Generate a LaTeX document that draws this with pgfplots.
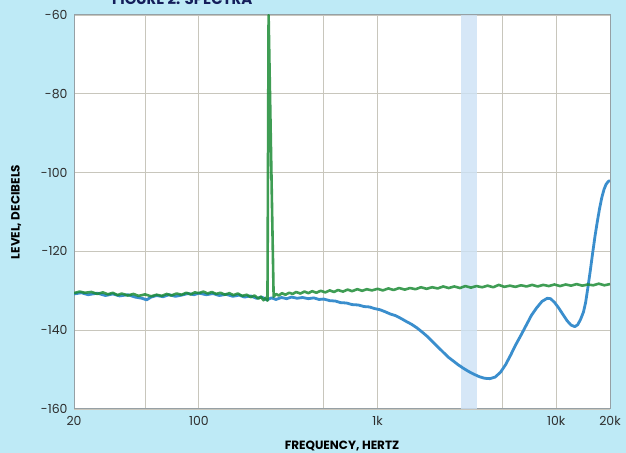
\documentclass[border=0pt]{standalone}
\usepackage{pgfplots}
\pgfplotsset{compat=1.18}
\usepackage{fontspec}
\setmainfont{Poppins}

\definecolor{bg}{RGB}{190,234,246}
\definecolor{bandc}{RGB}{204,226,245}
\definecolor{gridc}{RGB}{200,198,188}
\definecolor{framec}{RGB}{150,160,165}
\definecolor{tickc}{RGB}{45,45,45}
\definecolor{navy}{RGB}{20,30,90}
\definecolor{greenc}{RGB}{30,140,55}
\definecolor{bluec}{RGB}{58,142,205}

% level (dB) vs frequency (Hz)
\pgfplotstableread{
f db
20 -130.6
21.5 -130.2
23 -130.5
25 -130.3
27 -130.8
29 -130.4
31 -130.9
33 -130.5
35 -131.1
37 -130.7
40 -131.2
43 -130.8
46 -131.3
50 -130.9
54 -131.4
58 -131.0
62 -131.3
66 -130.8
70 -131.2
75 -130.7
80 -131.0
85 -130.5
90 -130.9
95 -130.4
100 -130.6
106 -130.2
112 -130.7
118 -130.3
125 -130.8
132 -130.5
140 -131.0
148 -130.6
156 -131.1
165 -130.7
175 -131.3
185 -131.0
195 -131.6
205 -131.2
215 -132.0
222 -131.5
230 -132.4
236 -131.8
242 -132.5
245.5 -60
262 -131.5
270 -130.8
280 -131.2
292 -130.6
305 -131.0
320 -130.5
335 -130.8
350 -130.3
370 -130.7
390 -130.2
410 -130.6
430 -130.1
455 -130.5
480 -130.0
510 -130.4
540 -129.9
570 -130.3
600 -129.8
640 -130.2
680 -129.7
720 -130.1
770 -129.6
820 -130.0
870 -129.6
930 -129.9
1000 -129.5
1070 -129.9
1150 -129.4
1230 -129.8
1320 -129.3
1420 -129.7
1520 -129.3
1630 -129.6
1750 -129.1
1880 -129.5
2020 -129.1
2170 -129.4
2330 -128.9
2500 -129.3
2690 -128.9
2890 -129.3
3100 -128.8
3330 -129.2
3580 -128.8
3850 -129.1
4130 -128.7
4440 -129.1
4770 -128.5
5120 -129.0
5500 -128.7
5910 -129.0
6350 -128.6
6820 -128.9
7330 -128.5
7880 -128.9
8460 -128.5
9090 -128.8
9770 -128.4
10500 -128.8
11300 -128.4
12100 -128.7
13000 -128.3
14000 -128.7
15000 -128.4
16100 -128.6
17300 -128.2
18600 -128.6
20000 -128.3
}\greendata

\pgfplotstableread{
f db
20 -130.8
22 -130.5
24 -131.0
27 -130.6
30 -131.2
33 -130.8
36 -131.3
40 -131.0
44 -131.6
48 -131.9
51 -132.3
54 -131.6
58 -131.2
63 -131.5
68 -131.0
74 -131.4
80 -131.1
87 -130.7
94 -131.0
100 -130.6
110 -131.0
120 -130.7
130 -131.2
142 -130.9
155 -131.4
168 -131.1
180 -131.6
195 -131.3
210 -131.9
225 -131.6
240 -132.3
255 -131.8
270 -132.2
290 -131.7
310 -132.0
330 -131.6
355 -131.9
380 -131.7
410 -132.0
440 -131.8
470 -132.2
500 -132.1
540 -132.5
580 -132.6
620 -133.0
670 -133.1
720 -133.5
780 -133.6
840 -134.0
900 -134.1
960 -134.5
1030 -134.8
1100 -135.3
1180 -135.9
1260 -136.3
1350 -137.0
1450 -137.8
1550 -138.5
1660 -139.4
1780 -140.5
1900 -141.6
2030 -142.9
2170 -144.2
2320 -145.5
2480 -146.8
2650 -147.8
2830 -148.8
3030 -149.7
3240 -150.5
3470 -151.2
3710 -151.8
3970 -152.2
4250 -152.3
4550 -151.9
4870 -150.7
5200 -148.8
5560 -146.3
5950 -143.6
6360 -141.2
6800 -138.7
7270 -136.2
7780 -134.3
8320 -132.7
8900 -131.9
9300 -132.0
9800 -133.0
10300 -134.3
10900 -136.0
11500 -137.6
12100 -138.7
12700 -139.1
13200 -138.6
13700 -137.2
14200 -135.4
14600 -133.0
15000 -129.5
15500 -125.0
16000 -120.3
16500 -116.0
17000 -112.3
17500 -109.0
18000 -106.3
18500 -104.3
19000 -103.0
19500 -102.3
20000 -102.0
}\bluedata

\begin{document}
\begin{tikzpicture}[x=1bp,y=1bp]
\path[use as bounding box, fill=bg] (0,0) rectangle (626,453);
\node[anchor=base west, text=navy, inner sep=0pt,
  font=\bfseries\fontsize{15}{15}\selectfont] at (112,448) {FIGURE 2: SPECTRA};
\begin{axis}[
  at={(74bp,44bp)}, anchor=south west,
  scale only axis, width=536bp, height=394bp,
  xmode=log, xmin=20, xmax=20000, ymin=-160, ymax=-60,
  axis background/.style={fill=white},
  xtick={20,50,100,500,1000,5000,10000,20000},
  xticklabels={20,,100,,1k,,10k,20k},
  ytick={-160,-140,-120,-100,-80,-60},
  yticklabels={-160,-140,-120,-100,-80,-60},
  grid=major, major grid style={draw=gridc, line width=0.8bp},
  major tick length=0pt, minor tick length=0pt,
  axis line style={draw=framec, line width=1bp},
  tick label style={font=\fontsize{12.5}{12.5}\selectfont, text=tickc},
  yticklabel style={xshift=-3bp},
  xticklabel style={yshift=-4bp},
  xlabel={FREQUENCY, HERTZ}, ylabel={LEVEL, DECIBELS},
  label style={font=\bfseries\fontsize{12}{12}\selectfont, text=black},
  xlabel style={at={(axis description cs:0.5,-0.094)}, anchor=center},
  ylabel style={at={(axis description cs:-0.108,0.5)}, anchor=center},
]
\addplot[draw=none, fill=bandc, fill opacity=0.8, forget plot]
  coordinates {(2940,-160) (3610,-160) (3610,-60) (2940,-60)} -- cycle;
\addplot[bluec, line width=2.8bp, line join=round] table[x=f, y=db] {\bluedata};
\addplot[greenc, line width=2.6bp, line join=round, opacity=0.85] table[x=f, y=db] {\greendata};
\end{axis}
\end{tikzpicture}
\end{document}
